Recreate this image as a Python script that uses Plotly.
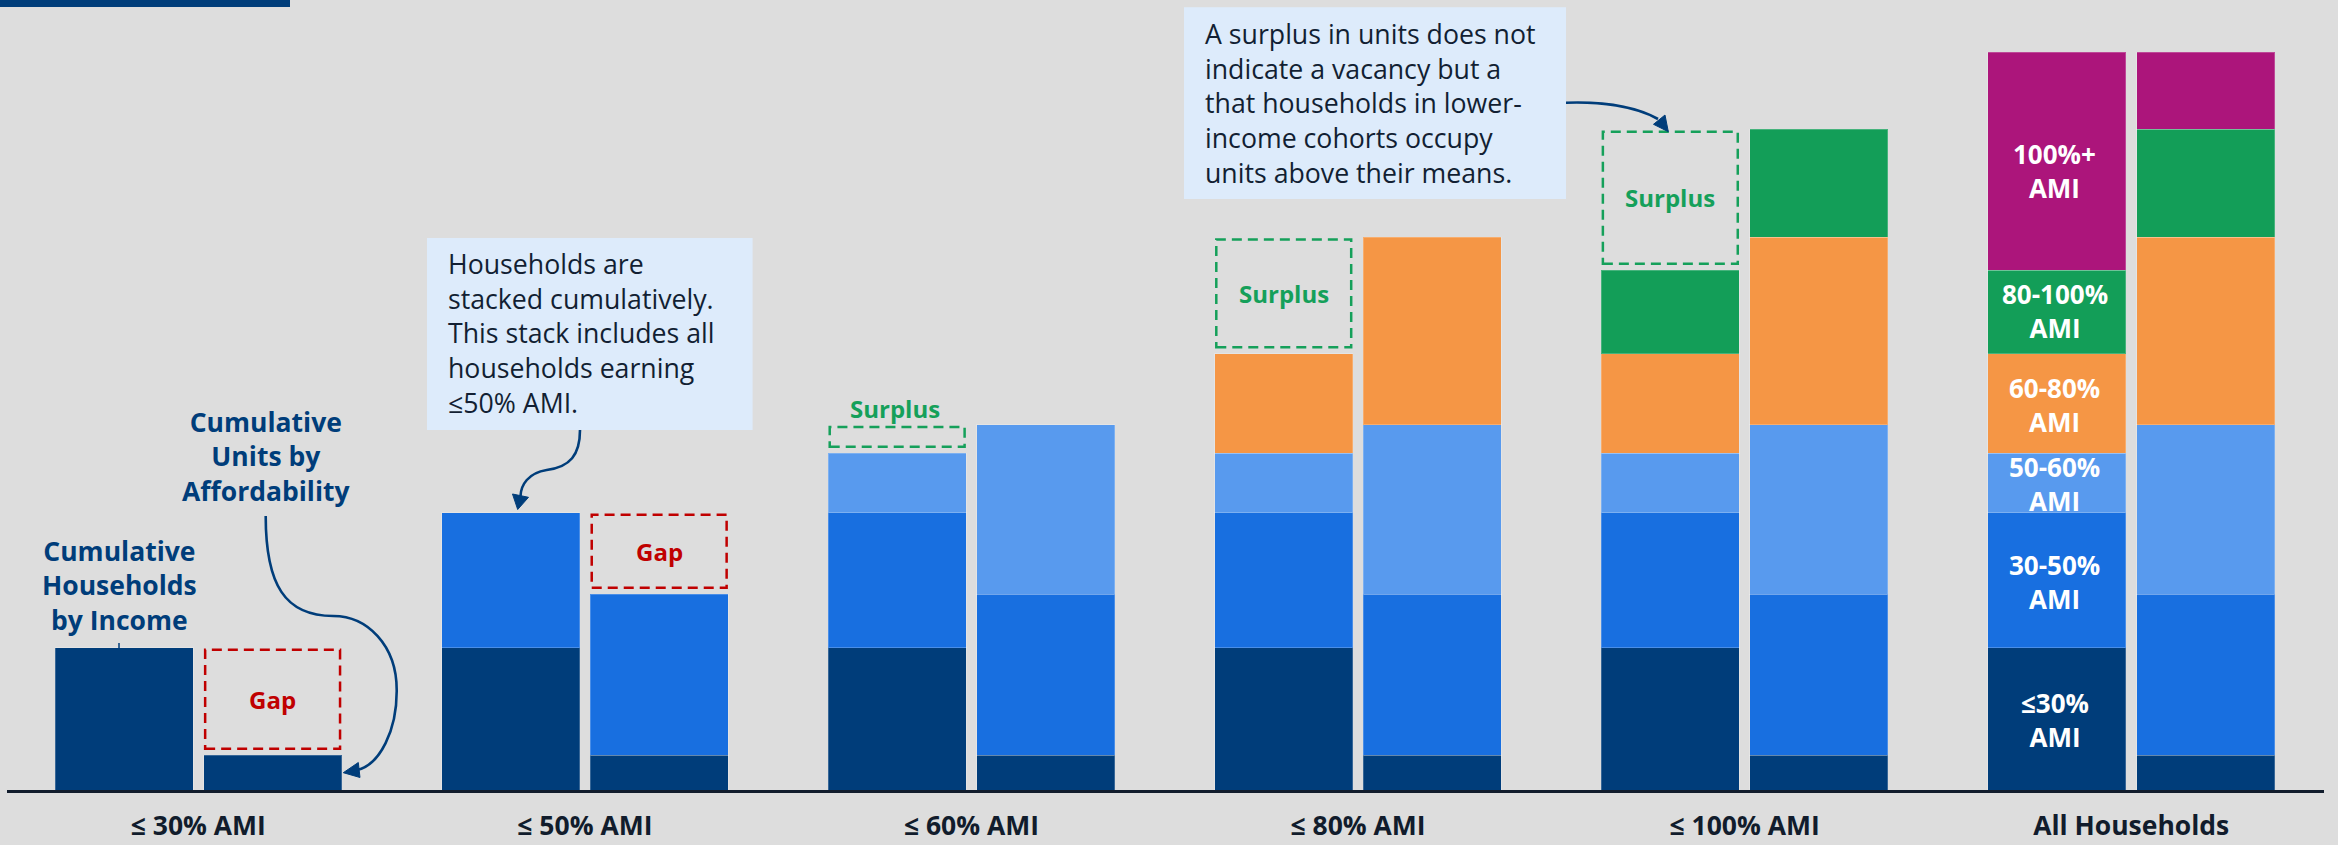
import plotly.graph_objects as go

# ---------------- data ----------------
categories = ["≤ 30% AMI", "≤ 50% AMI", "≤ 60% AMI", "≤ 80% AMI", "≤ 100% AMI", "All Households"]
segment_names = ["≤30% AMI", "30-50% AMI", "50-60% AMI", "60-80% AMI", "80-100% AMI", "100%+ AMI"]
segment_labels = ["≤30%<br>AMI", "30-50%<br>AMI", "50-60%<br>AMI",
                  "60-80%<br>AMI", "80-100%<br>AMI", "100%+<br>AMI"]
# share of all households (%) by income cohort
households = [19.3, 18.3, 8.0, 13.5, 11.3, 29.6]
# share of units (%) by affordability level
units = [4.7, 21.8, 23.0, 25.4, 14.6, 10.5]

seg_colors = ["#003D7A", "#186FE0", "#589AEE", "#F59645", "#139E58", "#AC157B"]
BG = "#DDDDDD"
NAVY = "#003D7A"
RED = "#C00000"
GREEN = "#15A05A"
FONT = "Open Sans"

# ---------------- geometry ----------------
W, H = 2338, 845
ML, MR, MT, MB = 7, 14, 0, 55
PLOT_B = H - MB           # pixel row of the baseline
PLOT_H = PLOT_B - MT
PITCH = 386.58            # px between group centres
G0 = 198.3                # px of first group centre
OFF = 74.3 / PITCH        # bar centre offset from group centre
BW = 138 / PITCH          # bar width
TOP_PX = 52               # pixel row reached by the full stack

total = sum(households)
y_max = total * PLOT_H / (PLOT_H - TOP_PX)
PXU = PLOT_H / y_max      # pixels per data unit
x_range = [(ML - G0) / PITCH, (W - MR - G0) / PITCH]


def px_x(p):
    return (p - ML) / (W - ML - MR)


def px_y(p):
    return (PLOT_B - p) / PLOT_H


def cum(vals, n):
    return sum(vals[:n])


fig = go.Figure()

n = len(categories)
for k in range(len(segment_names)):
    idx = list(range(k, n))
    fig.add_trace(go.Bar(
        x=[i - OFF for i in idx], y=[households[k]] * len(idx), width=[BW] * len(idx),
        marker=dict(color=seg_colors[k], line=dict(width=1, color="rgba(255,255,255,0.22)")),
        name=segment_names[k] + " households", showlegend=False, hoverinfo="skip"))
    fig.add_trace(go.Bar(
        x=[i + OFF for i in idx], y=[units[k]] * len(idx), width=[BW] * len(idx),
        marker=dict(color=seg_colors[k], line=dict(width=1, color="rgba(255,255,255,0.22)")),
        name=segment_names[k] + " units", showlegend=False, hoverinfo="skip"))

shapes = []
annotations = []


def add_text(text, x, y, xref, yref, size, color, weight="bold", xanchor="center", align="center",
             yshift=0):
    annotations.append(dict(
        text=text, x=x, y=y, xref=xref, yref=yref, showarrow=False,
        xanchor=xanchor, yanchor="middle", align=align, yshift=yshift,
        font=dict(family=FONT, size=size, color=color, weight=weight)))


# ---------- gap / surplus boxes ----------
LOW_PAD = 0.9
HIGH_PAD = 0.3
for i in range(n - 1):
    h_top = cum(households, i + 1)
    u_top = cum(units, i + 1)
    if h_top > u_top:
        xc = i + OFF
        y0, y1 = u_top + LOW_PAD, h_top - HIGH_PAD
        col, label = RED, "Gap"
    else:
        xc = i - OFF
        y0, y1 = h_top + LOW_PAD, u_top - HIGH_PAD
        col, label = GREEN, "Surplus"
    shapes.append(dict(type="rect", xref="x", yref="y", x0=xc - BW / 2 + 0.004, x1=xc + BW / 2 - 0.004,
                       y0=y0, y1=y1, line=dict(color=col, width=2.5, dash="10px,6px"),
                       fillcolor="rgba(0,0,0,0)", layer="above"))
    if (y1 - y0) * PXU > 40:
        add_text(label, xc, (y0 + y1) / 2, "x", "y", 24, col)
    else:
        add_text(label, xc - 0.005, y1, "x", "y", 24, col, yshift=18)

# ---------- segment labels in the "All Households" household bar ----------
label_shift = [-1, -2, -1, -1, 1, -10]
last = n - 1
for k, lab in enumerate(segment_labels):
    yc = cum(households, k) + households[k] / 2
    add_text(lab, last - OFF - 0.006, yc, "x", "y", 26, "white", yshift=label_shift[k])

# ---------- series labels ----------
add_text("Cumulative<br>Households<br>by Income", px_x(119), px_y(585), "paper", "paper", 26.5, NAVY)
add_text("Cumulative<br>Units by<br>Affordability", px_x(266), px_y(456.7), "paper", "paper", 26.5, NAVY)
shapes.append(dict(type="line", xref="paper", yref="paper", x0=px_x(119), x1=px_x(119),
                   y0=px_y(643), y1=px_y(648), line=dict(color=NAVY, width=1.5)))

# ---------- note boxes ----------
BOX_FILL = "#DDEBFB"
TXT = "#121F33"
shapes.append(dict(type="rect", xref="paper", yref="paper", x0=px_x(427), x1=px_x(752.6),
                   y0=px_y(430), y1=px_y(238), fillcolor=BOX_FILL, line=dict(width=0), layer="above"))
shapes.append(dict(type="rect", xref="paper", yref="paper", x0=px_x(1184), x1=px_x(1566),
                   y0=px_y(199), y1=px_y(7.3), fillcolor=BOX_FILL, line=dict(width=0), layer="above"))
add_text("Households are<br>stacked cumulatively.<br>This stack includes all<br>"
         "households earning<br>≤50% AMI.",
         px_x(446), px_y(333.3), "paper", "paper", 26.7, TXT, weight="normal", xanchor="left", align="left")
add_text("A surplus in units does not<br>indicate a vacancy but a<br>that households in lower-<br>"
         "income cohorts occupy<br>units above their means.",
         px_x(1203), px_y(102.9), "paper", "paper", 26.7, TXT, weight="normal", xanchor="left", align="left")

# top-left decorative bar
shapes.append(dict(type="rect", xref="paper", yref="paper", x0=px_x(0), x1=px_x(290),
                   y0=px_y(7), y1=px_y(-5), fillcolor=NAVY, line=dict(width=0), layer="above"))


# ---------- curved arrows ----------
def P(x, y):
    return f"{px_x(x):.6f},{px_y(y):.6f}"


def curve(segs, start):
    d = "M " + P(*start)
    for c1, c2, e in segs:
        d += f" C {P(*c1)} {P(*c2)} {P(*e)}"
    return d


def head(tip, a, b):
    return f"M {P(*tip)} L {P(*a)} L {P(*b)} Z"


arrow_line = dict(color=NAVY, width=2.6)
# arrow A
shapes.append(dict(type="path", xref="paper", yref="paper", line=arrow_line,
                   path=curve([((265.7, 585), (285, 616), (333.3, 616)),
                               ((367, 616), (396.7, 645), (396.7, 690)),
                               ((397, 730), (380, 765), (357, 770))], (265.7, 516))))
shapes.append(dict(type="path", xref="paper", yref="paper", line=dict(color=NAVY, width=1),
                   fillcolor=NAVY, path=head((343.3, 772.7), (358.3, 762.5), (360, 777.5))))
# arrow B
shapes.append(dict(type="path", xref="paper", yref="paper", line=arrow_line,
                   path=curve([((580, 455), (570, 467), (546.7, 470)),
                               ((528, 473), (521, 485), (520.5, 496))], (580, 430))))
shapes.append(dict(type="path", xref="paper", yref="paper", line=dict(color=NAVY, width=1),
                   fillcolor=NAVY, path=head((517.7, 509.5), (512.5, 494), (528.5, 497.3))))
# arrow C
shapes.append(dict(type="path", xref="paper", yref="paper", line=arrow_line,
                   path=curve([((1600, 101.5), (1635, 106), (1658, 119))], (1566, 102.7))))
shapes.append(dict(type="path", xref="paper", yref="paper", line=dict(color=NAVY, width=1),
                   fillcolor=NAVY, path=head((1668.3, 131.7), (1653.5, 124.3), (1665, 115))))

fig.update_layout(
    width=W, height=H, barmode="stack", bargap=0,
    paper_bgcolor=BG, plot_bgcolor=BG,
    margin=dict(l=ML, r=MR, t=MT, b=MB, pad=0, autoexpand=False),
    shapes=shapes, annotations=annotations,
    font=dict(family=FONT),
    xaxis=dict(range=x_range, tickmode="array", tickvals=list(range(n)), ticktext=categories,
               showgrid=False, zeroline=False, showline=True, linecolor="#111C2C", linewidth=2.5,
               ticks="", ticklabelstandoff=11, automargin=False,
               tickfont=dict(family=FONT, size=26.5, color="#111C2C", weight="bold"), fixedrange=True),
    yaxis=dict(range=[0, y_max], showgrid=False, zeroline=False, showticklabels=False,
               showline=False, fixedrange=True, automargin=False),
)

fig.write_html(
    "out.html",
    config={"displayModeBar": False, "staticPlot": True},
    post_script=(
        "document.documentElement.style.margin='0';"
        "document.documentElement.style.overflow='hidden';"
        "document.documentElement.style.height='845px';"
        "document.documentElement.style.background='#DDDDDD';"
        "document.body.style.margin='0';document.body.style.padding='0';"
        "document.body.style.height='845px';"
        "document.body.style.overflow='hidden';document.body.style.background='#DDDDDD';"
    ),
)
